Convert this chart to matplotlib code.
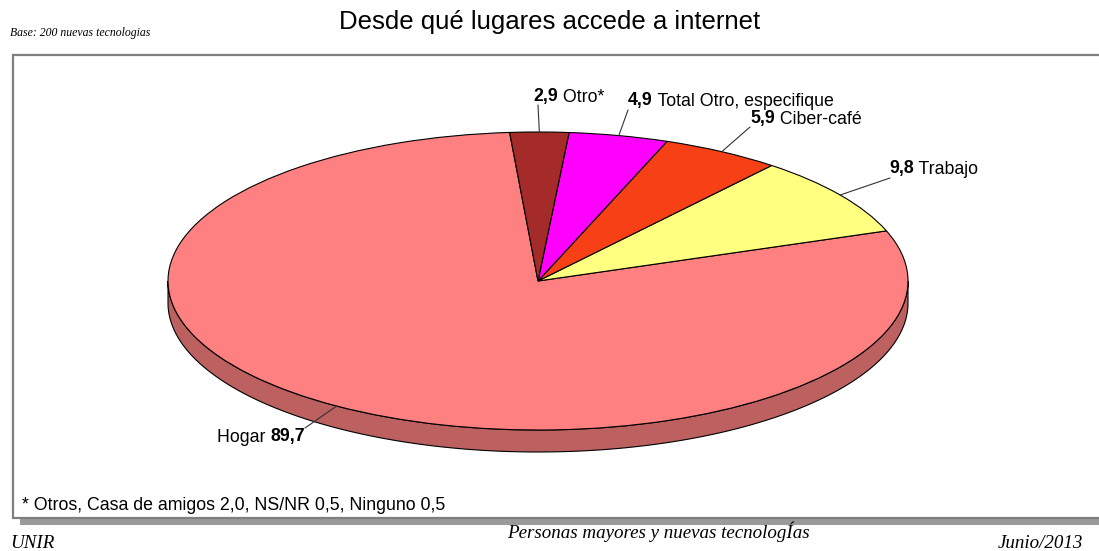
"""Desde qué lugares accede a internet - pseudo-3D pie chart."""

import numpy as np
import matplotlib
matplotlib.use("Agg")
import matplotlib.pyplot as plt
from matplotlib.patches import Rectangle, Polygon

# ── Data ───────────────────────────────────────────────────────────────────────
labels = ["Hogar", "Trabajo", "Ciber-café", "Total Otro, especifique", "Otro*"]
values = [89.7, 9.8, 5.9, 4.9, 2.9]
value_text = ["89,7", "9,8", "5,9", "4,9", "2,9"]
colors = ["#FF8080", "#FFFF80", "#F84016", "#FF00FF", "#A52A2A"]
side_colors = ["#BD6060", "#BFBF60", "#BA3010", "#BF00BF", "#7C1F1F"]

title = "Desde qué lugares accede a internet"
base_note = "Base: 200 nuevas tecnologias"
footnote = "* Otros, Casa de amigos 2,0, NS/NR 0,5, Ninguno 0,5"
footer_mid = "Personas mayores y nuevas tecnologÍas"
footer_right = "Junio/2013"
footer_left = "UNIR"

# ── Layout (pixels, 1099 x 551 canvas) ─────────────────────────────────────────
W, H = 1099, 551
CX, CY, RX, RY = 538, 281, 370, 149   # top-face ellipse
DEPTH = 22 / RY                        # side thickness in pie units
START = 94.4
LBL_FS = 12.8

# label anchor (px) and leader end (px), in pie order
label_pos = [(305, 437), (889, 169), (750, 119), (628, 101), (533, 97)]
leader_end = [(305, 428), (890, 178), (750, 127), (628, 110), (538, 105)]

plt.rcParams["font.family"] = ["Liberation Sans", "DejaVu Sans"]
fig = plt.figure(figsize=(W / 100, H / 100), dpi=100)

# background / frame axes in pixel coords
bg = fig.add_axes([0, 0, 1, 1], zorder=0)
bg.set_xlim(0, W); bg.set_ylim(H, 0); bg.axis("off")
bg.add_patch(Rectangle((20, 518), W, 7, facecolor="#9A9A9A", edgecolor="none"))
bg.add_patch(Rectangle((13, 55), W + 20, 463, facecolor="white",
                       edgecolor="#7F7F7F", lw=1.6))

# pie axes: unit circle stretched into the ellipse
ax = fig.add_axes([(CX - RX) / W, (H - CY - RY) / H, 2 * RX / W, 2 * RY / H], zorder=1)
wedges, _ = ax.pie(values, colors=colors, startangle=START, counterclock=True,
                   wedgeprops=dict(edgecolor="black", linewidth=0.8))
ax.set_aspect("auto")
ax.set_xlim(-1, 1); ax.set_ylim(-1, 1)
ax.axis("off")

# side band for the front half (180..360 deg)
for w, sc in zip(wedges, side_colors):
    for a1, a2 in [(w.theta1, w.theta2), (w.theta1 - 360, w.theta2 - 360)]:
        lo, hi = max(a1, 180), min(a2, 360)
        if hi > lo:
            th = np.radians(np.linspace(lo, hi, 200))
            top = np.column_stack([np.cos(th), np.sin(th)])
            bot = np.column_stack([np.cos(th), np.sin(th) - DEPTH])[::-1]
            poly = Polygon(np.vstack([top, bot]), closed=True, facecolor=sc,
                           edgecolor="black", lw=0.8, clip_on=False, zorder=0)
            ax.add_patch(poly)

# overlay for text and leaders
ov = fig.add_axes([0, 0, 1, 1], zorder=3)
ov.set_xlim(0, W); ov.set_ylim(H, 0); ov.axis("off")

for i, w in enumerate(wedges):
    mid = np.radians((w.theta1 + w.theta2) / 2)
    ov.annotate("", xy=(np.cos(mid), np.sin(mid)), xycoords=ax.transData,
                xytext=leader_end[i], textcoords="data",
                arrowprops=dict(arrowstyle="-", color="#333333", lw=0.8,
                                shrinkA=0, shrinkB=0))
    x, y = label_pos[i]
    if i == 0:
        num = ov.text(x, y, value_text[i], ha="right", va="center",
                      fontsize=LBL_FS, fontweight="bold")
        ov.annotate(labels[i] + " ", xy=(0, 0), xycoords=num, ha="right",
                    va="bottom", fontsize=LBL_FS)
    else:
        num = ov.text(x, y, value_text[i], ha="left", va="center",
                      fontsize=LBL_FS, fontweight="bold")
        ov.annotate(" " + labels[i], xy=(1, 0), xycoords=num, ha="left",
                    va="bottom", fontsize=LBL_FS)

ov.text(550, 22, title, ha="center", va="center", fontsize=18.5)
ov.text(10, 33, base_note, ha="left", va="center", fontsize=8.5,
        family="Liberation Serif", style="italic")
ov.text(22, 506, footnote, ha="left", va="center", fontsize=LBL_FS)
ov.text(658, 532, footer_mid, ha="center", va="center", fontsize=13.7,
        family="Liberation Serif", style="italic")
ov.text(1083, 543, footer_right, ha="right", va="center", fontsize=13.7,
        family="Liberation Serif", style="italic")
ov.text(10, 543, footer_left, ha="left", va="center", fontsize=13.7,
        family="Liberation Serif", style="italic")

fig.savefig("out.png", dpi=100)
